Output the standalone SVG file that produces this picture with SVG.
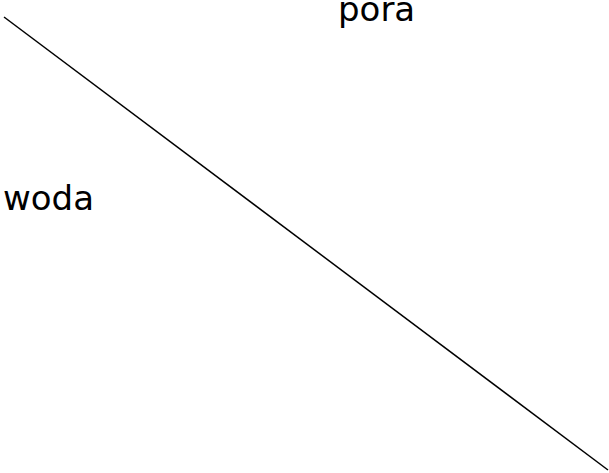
<svg xmlns="http://www.w3.org/2000/svg" width="609" height="473" viewBox="0 0 609 473">
<style>
.t{font-family:"DejaVu Sans",Verdana,sans-serif;font-size:34px;fill:#000}
.c{stroke:#000;stroke-width:1.5;fill:none}
</style>
<rect width="609" height="473" fill="#fff"/>
<g id="connectors"><line class="c" x1="4" y1="17" x2="608" y2="470"/></g>
<g id="pora"><text class="t" x="338" y="21">pora</text></g>
<g id="woda"><text class="t" x="3" y="210">woda</text></g>
</svg>
